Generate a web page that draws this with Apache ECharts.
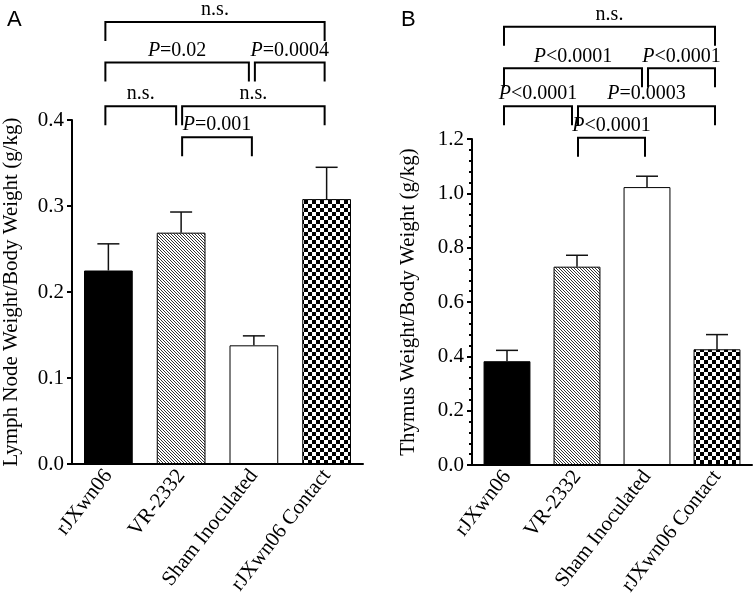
<!DOCTYPE html>
<html lang="en">
<head>
    <meta charset="UTF-8">
    <title>Lymph node / thymus weight</title>
    <style>
        body { margin: 0; background: #fff; }
        #chart { width: 755px; height: 594px; }
    </style>
</head>
<body>
<div id="chart"></div>
<script src="https://cdn.jsdelivr.net/npm/echarts@6/dist/echarts.min.js"></script>
<script>
    // groups on the x axis
    var categories = ['rJXwn06', 'VR-2332', 'Sham Inoculated', 'rJXwn06 Contact'];

    // panel A: lymph node weight / body weight (g/kg), mean and SEM
    var lymphMean = [0.225, 0.269, 0.138, 0.308];
    var lymphErr = [0.031, 0.024, 0.011, 0.037];

    // panel B: thymus weight / body weight (g/kg)
    var thymusMean = [0.382, 0.730, 1.023, 0.426];
    var thymusErr = [0.040, 0.042, 0.040, 0.054];

    // comparisons: [from group, to group, row (0 = top), label]
    var compareA = [
        [0, 3, 0, 'n.s.'],
        [0, 2, 1, 'P=0.02'],
        [2, 3, 1, 'P=0.0004'],
        [0, 1, 2, 'n.s.'],
        [1, 3, 2, 'n.s.'],
        [1, 2, 3, 'P=0.001']
    ];
    var compareB = [
        [0, 3, 0, 'n.s.'],
        [0, 2, 1, 'P<0.0001'],
        [2, 3, 1, 'P<0.0001'],
        [0, 1, 2, 'P<0.0001'],
        [1, 3, 2, 'P=0.0003'],
        [1, 2, 3, 'P<0.0001']
    ];
    // height of each bracket row, in axis units
    var rowsA = [0.514, 0.467, 0.416, 0.380];
    var rowsB = [1.613, 1.460, 1.321, 1.205];

    var serif = 'Liberation Serif';

    // fill patterns
    function hatchPattern() {
        var c = document.createElement('canvas');
        c.width = 3; c.height = 3;
        var ctx = c.getContext('2d');
        ctx.fillStyle = '#fff';
        ctx.fillRect(0, 0, 3, 3);
        ctx.fillStyle = '#333';
        for (var y = 0; y < 3; y++) {
            for (var x = 0; x < 3; x++) {
                if (((x - y) % 3 + 3) % 3 === 0) ctx.fillRect(x, y, 1, 1);
            }
        }
        return c;
    }
    function checkerPattern() {
        var c = document.createElement('canvas');
        c.width = 8; c.height = 8;
        var ctx = c.getContext('2d');
        ctx.fillStyle = '#fff';
        ctx.fillRect(0, 0, 8, 8);
        ctx.fillStyle = '#000';
        ctx.fillRect(0, 0, 4, 4);
        ctx.fillRect(4, 4, 4, 4);
        return c;
    }
    var fills = [
        '#000',
        { image: hatchPattern(), repeat: 'repeat' },
        '#fff',
        { image: checkerPattern(), repeat: 'repeat' }
    ];

    function barData(vals) {
        return vals.map(function (v, i) {
            return { value: v, itemStyle: { color: fills[i], borderColor: '#000', borderWidth: 1 } };
        });
    }

    function errSeries(idx, mean, err) {
        return {
            type: 'custom',
            xAxisIndex: idx, yAxisIndex: idx,
            z: 5,
            data: mean.map(function (m, i) { return [i, m, m + err[i]]; }),
            renderItem: function (params, api) {
                var p0 = api.coord([api.value(0), api.value(1)]);
                var p1 = api.coord([api.value(0), api.value(2)]);
                var st = { stroke: '#111', lineWidth: 1.5 };
                return {
                    type: 'group',
                    children: [
                        { type: 'line', shape: { x1: p0[0], y1: p0[1], x2: p1[0], y2: p1[1] }, style: st },
                        { type: 'line', shape: { x1: p1[0] - 11, y1: p1[1], x2: p1[0] + 11, y2: p1[1] }, style: st }
                    ]
                };
            }
        };
    }

    function bracketSeries(idx, list, rows) {
        return {
            type: 'custom',
            xAxisIndex: idx, yAxisIndex: idx,
            clip: false,
            silent: true,
            data: list.map(function (b) { return [b[0], b[1], rows[b[2]]]; }),
            renderItem: function (params, api) {
                var b = list[params.dataIndex];
                var a = api.coord([b[0], rows[b[2]]]);
                var e = api.coord([b[1], rows[b[2]]]);
                // small gaps where two brackets of one row meet
                var sharedEnd = list.some(function (o) { return o[2] === b[2] && o[0] === b[1]; });
                var x1 = a[0] + (b[0] === 0 ? -3 : 1);
                var x2 = e[0] + (sharedEnd ? -5 : -2);
                var y = a[1];
                var st = { stroke: '#000', lineWidth: 2, fill: null };
                var txt = b[3].charAt(0) === 'P' ? '{i|P}' + b[3].slice(1) : b[3];
                return {
                    type: 'group',
                    children: [
                        { type: 'polyline', shape: { points: [[x1, y + 19], [x1, y], [x2, y], [x2, y + 19]] }, style: st },
                        {
                            type: 'text',
                            x: (x1 + x2) / 2, y: y - 2,
                            style: {
                                text: txt,
                                align: 'center', verticalAlign: 'bottom',
                                fontFamily: serif, fontSize: 20, fill: '#000',
                                rich: { i: { fontStyle: 'italic', fontFamily: serif, fontSize: 20 } }
                            }
                        }
                    ]
                };
            }
        };
    }

    function xAxis(idx) {
        return {
            type: 'category',
            gridIndex: idx,
            data: categories,
            axisLine: { lineStyle: { color: '#000', width: 2 } },
            axisTick: { alignWithLabel: true, length: 5, lineStyle: { color: '#000', width: 2 } },
            axisLabel: { rotate: 52, fontFamily: serif, fontSize: 21, color: '#000', margin: 8, interval: 0 }
        };
    }

    function yAxis(idx, max, step, name, minor, gap) {
        return {
            type: 'value',
            gridIndex: idx,
            min: 0, max: max, interval: step,
            name: name,
            nameLocation: 'middle',
            nameGap: gap,
            nameTextStyle: { fontFamily: serif, fontSize: 21, color: '#000' },
            axisLine: { show: true, lineStyle: { color: '#000', width: 2 } },
            axisTick: { show: true, length: 5, lineStyle: { color: '#000', width: 2 } },
            minorTick: { show: minor, splitNumber: 5, length: 3, lineStyle: { color: '#000', width: 2 } },
            splitLine: { show: false },
            axisLabel: {
                fontFamily: serif, fontSize: 21, color: '#000', margin: 8,
                formatter: function (v) { return v.toFixed(1); }
            }
        };
    }

    var chart = echarts.init(document.getElementById('chart'));
    var option = {
        animation: false,
        backgroundColor: '#fff',
        title: [
            { text: 'A', left: 2, top: 4, textStyle: { fontFamily: 'Liberation Sans', fontWeight: 'normal', fontSize: 22, color: '#000' } },
            { text: 'B', left: 396, top: 4, textStyle: { fontFamily: 'Liberation Sans', fontWeight: 'normal', fontSize: 22, color: '#000' } }
        ],
        grid: [
            { left: 72, top: 120, width: 291, height: 344, outerBoundsMode: 'none' },
            { left: 472, top: 139, width: 280, height: 326, outerBoundsMode: 'none' }
        ],
        xAxis: [xAxis(0), xAxis(1)],
        yAxis: [
            yAxis(0, 0.4, 0.1, 'Lymph Node Weight/Body Weight (g/kg)', false, 50),
            yAxis(1, 1.2, 0.2, 'Thymus Weight/Body Weight (g/kg)', true, 53)
        ],
        series: [
            { type: 'bar', xAxisIndex: 0, yAxisIndex: 0, barWidth: '67%', data: barData(lymphMean) },
            { type: 'bar', xAxisIndex: 1, yAxisIndex: 1, barWidth: '67%', data: barData(thymusMean) },
            errSeries(0, lymphMean, lymphErr),
            errSeries(1, thymusMean, thymusErr),
            bracketSeries(0, compareA, rowsA),
            bracketSeries(1, compareB, rowsB)
        ]
    };
    chart.setOption(option);
</script>
</body>
</html>
